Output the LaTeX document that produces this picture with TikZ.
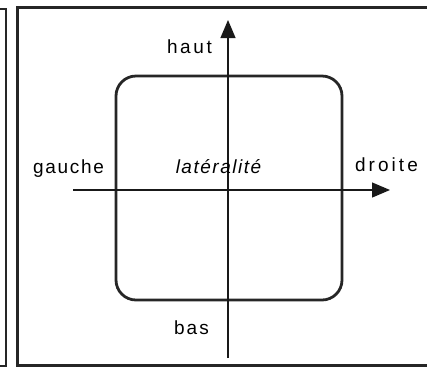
\documentclass[tikz,border=0pt]{standalone}
\usepackage{fontspec}
\setmainfont{Liberation Sans}
\usetikzlibrary{arrows.meta}
\tikzset{
  frameline/.style={line width=2.4pt, draw=black!85},
  axis/.style={line width=1.2pt, draw=black!90, -{Triangle[length=18pt,width=15pt]}},
  zone/.style={line width=2.8pt, draw=black!85, rounded corners=20pt},
  lbl/.style={inner sep=0pt, anchor=base, font=\fontsize{19}{22}\selectfont}
}
\begin{document}
\begin{tikzpicture}[x=1pt,y=-1pt]
  \useasboundingbox (0,0) rectangle (427,368);
  \begin{scope}
    \clip (0,0) rectangle (427,368);
    % edge of the neighbouring panel
    \draw[frameline] (-20,366) rectangle (6,9);
    % panel frame
    \draw[frameline] (17.5,365.5) rectangle (450,7.5);
  \end{scope}
  % rounded zone
  \draw[zone] (116,76) rectangle (342,300);
  % axes
  \coordinate (vbot) at (228,358);
  \coordinate (vtop) at (228,20);
  \coordinate (hleft) at (73,190);
  \coordinate (hright) at (390,190);
  \draw[axis] (vbot) -- (vtop);
  \draw[axis] (hleft) -- (hright);
  % labels
  \node[lbl] (haut) at (189.5,53) {\addfontfeatures{LetterSpace=14}haut};
  \node[lbl] (bas) at (191.5,334) {\addfontfeatures{LetterSpace=11}bas};
  \node[lbl] (gauche) at (68.5,173) {\addfontfeatures{LetterSpace=9}gauche};
  \node[lbl] (droite) at (386.5,171) {\addfontfeatures{LetterSpace=16}droite};
  \node[lbl] (lat) at (218.5,173) {\itshape\addfontfeatures{LetterSpace=8}latéralité};
\end{tikzpicture}
\end{document}
